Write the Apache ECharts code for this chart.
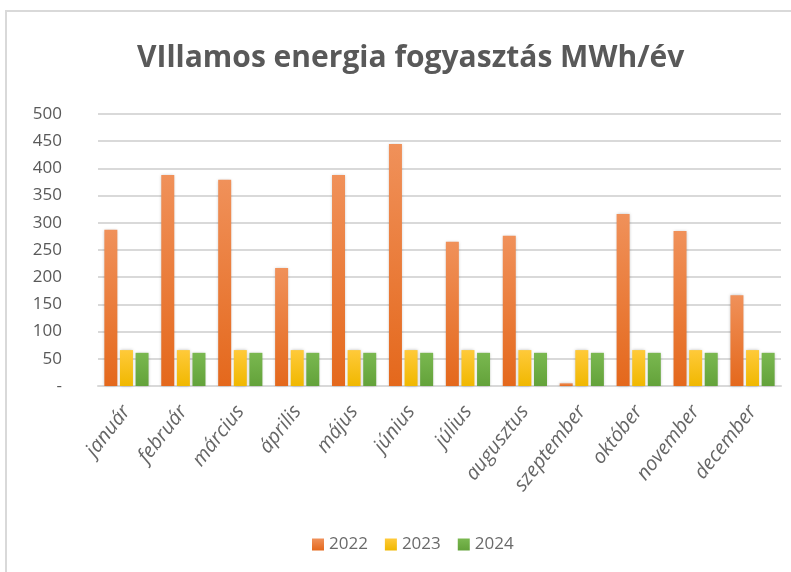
<!DOCTYPE html>
<html>
<head>
<meta charset="utf-8">
<script src="https://cdn.jsdelivr.net/npm/echarts@6/dist/echarts.min.js"></script>
<style>
  html, body { margin: 0; padding: 0; background: #fff; }
  #frame {
    position: absolute; left: 5px; top: 10px;
    width: 786px; height: 562px;
    border-top: 2px solid #d9d9d9; border-left: 2px solid #d9d9d9;
  }
  #chart { position: absolute; left: 0; top: 0; width: 791px; height: 572px; }
</style>
</head>
<body>
<div id="frame"></div>
<div id="chart"></div>
<script>
const months = ['január', 'február', 'március', 'április', 'május', 'június',
    'július', 'augusztus', 'szeptember', 'október', 'november', 'december'];
const values2022 = [287, 388, 379, 217, 388, 445, 265, 276, 5, 316, 285, 167];
const values2023 = [66, 66, 66, 66, 66, 66, 66, 66, 66, 66, 66, 66];
const values2024 = [61, 61, 61, 61, 61, 61, 61, 61, 61, 61, 61, 61];
const years = ['2022', '2023', '2024'];

const chart = echarts.init(document.getElementById('chart'));

function grad(top, bottom) {
    return new echarts.graphic.LinearGradient(0, 0, 0, 1, [
        { offset: 0, color: top },
        { offset: 1, color: bottom }
    ]);
}

const textColor = '#595959';

const option = {
    animation: false,
    title: {
        text: 'VIllamos energia fogyasztás MWh/év',
        left: 132,
        top: 38,
        textStyle: {
            fontFamily: 'Open Sans',
            fontSize: 30,
            fontWeight: 'bold',
            color: textColor
        }
    },
    legend: {
        data: years,
        top: 531,
        left: 307,
        itemWidth: 12,
        itemHeight: 12,
        itemGap: 17,
        icon: 'rect',
        textStyle: { fontFamily: 'Open Sans', fontSize: 17, color: '#6a6a6a' }
    },
    grid: {
        left: 98,
        right: 10,
        top: 114,
        height: 272
    },
    xAxis: {
        type: 'category',
        data: months,
        axisTick: { show: false },
        axisLine: { lineStyle: { color: '#d9d9d9', width: 2 } },
        axisLabel: {
            rotate: 52,
            interval: 0,
            margin: 22,
            fontStyle: 'italic',
            fontFamily: 'Open Sans',
            fontSize: 20,
            color: '#666666'
        }
    },
    yAxis: {
        type: 'value',
        min: 0,
        max: 500,
        interval: 50,
        axisLine: { show: false },
        axisTick: { show: false },
        splitLine: { lineStyle: { color: '#d9d9d9', width: 2 } },
        axisLabel: {
            margin: 36,
            fontFamily: 'Open Sans',
            fontSize: 17,
            color: textColor,
            formatter: v => v === 0 ? '-' : String(v)
        }
    },
    series: [
        {
            name: years[0], type: 'bar', data: values2022,
            barWidth: 13, barGap: '20%',
            itemStyle: { color: grad('#f0915a', '#e4681c'), shadowColor: 'rgba(0,0,0,0.25)', shadowBlur: 3 }
        },
        {
            name: years[1], type: 'bar', data: values2023,
            barWidth: 13, barGap: '20%',
            itemStyle: { color: grad('#ffca3a', '#f0b800'), shadowColor: 'rgba(0,0,0,0.25)', shadowBlur: 3 }
        },
        {
            name: years[2], type: 'bar', data: values2024,
            barWidth: 13, barGap: '20%',
            itemStyle: { color: grad('#7ab850', '#63a23a'), shadowColor: 'rgba(0,0,0,0.25)', shadowBlur: 3 }
        }
    ]
};

chart.setOption(option);
</script>
</body>
</html>
